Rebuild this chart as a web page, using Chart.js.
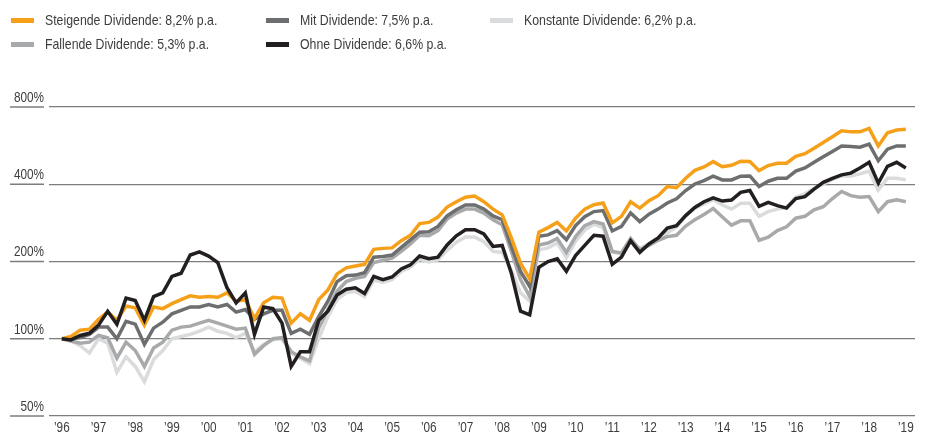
<!DOCTYPE html>
<html lang="de">
<head>
<meta charset="UTF-8">
<title>Dividendenstrategien</title>
<script src="https://cdn.jsdelivr.net/npm/chart.js"></script>
<style>
  body { margin: 0; background: #fff; }
  #wrap { position: relative; width: 927px; height: 435px; }
  #chart { position: absolute; left: 0; top: 0; }
  .leg {
    position: absolute;
    font-family: 'Liberation Sans Narrow', 'Liberation Sans', sans-serif;
    font-size: 15px;
    line-height: 18px;
    color: #3d3d3d;
    white-space: nowrap;
  }
  .leg i { position: absolute; left: -34px; top: 7px; width: 23px; height: 5px; }
  .leg span { display: inline-block; transform: scaleX(0.82); transform-origin: 0 50%; }
</style>
</head>
<body>
<div id="wrap">
  <canvas id="chart" width="927" height="435"></canvas>
</div>

<script>
// Quartalswerte ab 1996, Start = 100 %
const startYear = 1996;
const stepsPerYear = 4;

const steigende = [100,102,108,109,119,127,118,134,132,113, 133,131,137,142,147,145,146,145,151,140,
  142,120,138,145,144,115,125,118,142,155, 179,189,192,195,223,225,226,241,253,281,
  284,298,326,342,356,360,342,320,304,247, 197,171,260,271,284,263,295,320,333,338,
  283,300,342,323,345,361,392,388,422,453, 467,490,468,474,492,491,452,473,483,483,
  514,526,553,582,613,646,640,640,660,564, 635,651,655];

const mit = [100,100,101,104,111,111,100,117,114,95, 110,116,125,129,133,133,136,133,136,127,
  130,119,125,129,129,105,109,104,122,140, 167,176,177,181,208,209,212,227,243,260,
  261,274,301,318,332,332,320,301,291,229, 183,160,251,254,264,243,276,299,313,316,
  263,274,309,286,306,320,338,351,378,401, 413,430,416,416,430,431,392,411,422,422,
  450,463,487,512,537,564,561,558,573,494, 548,564,564];

const konstante = [100,98,94,88,100,96,74,85,78,68, 83,90,100,102,104,107,111,107,105,101,
  105,89,95,99,100,88,84,80,100,122, 142,151,153,146,169,166,170,183,190,204,
  199,203,221,238,249,249,239,219,217,185, 151,140,222,226,236,207,240,265,280,271,
  218,214,239,225,234,246,259,272,300,323, 335,348,332,320,337,337,300,313,320,325,
  356,367,386,400,418,431,431,439,450,380, 422,422,416];

const fallende = [100,98,96,97,103,101,84,97,90,78, 92,97,108,111,112,115,118,115,112,109,
  110,87,94,100,101,89,85,82,110,130, 153,167,172,175,198,202,206,219,234,253,
  252,264,293,309,320,320,309,291,278,219, 170,146,232,236,246,217,250,276,286,280,
  219,216,246,222,231,242,250,253,275,291, 305,322,298,277,288,288,242,249,264,273,
  295,300,318,327,352,375,361,356,358,313, 342,348,342];

const ohne = [100,99,103,105,113,128,114,144,141,118, 146,151,175,180,212,218,210,198,158,138,
  151,104,133,131,115,78,89,89,118,128, 148,156,158,150,175,170,174,187,194,210,
  205,208,232,252,266,266,256,229,231,180, 128,124,190,200,205,183,211,231,253,251,
  195,208,241,217,234,247,270,276,302,325, 342,354,344,347,372,378,328,340,330,323,
  352,358,383,407,422,435,442,463,487,404, 470,487,463];

const seriesNames = ['Steigende Dividende: 8,2% p.a.', 'Mit Dividende: 7,5% p.a.',
  'Konstante Dividende: 6,2% p.a.', 'Fallende Dividende: 5,3% p.a.', 'Ohne Dividende: 6,6% p.a.'];
const seriesColors = ['#f6a01a', '#6d6e70', '#dadbdc', '#a8a9ab', '#231f20'];
const seriesData = [steigende, mit, konstante, fallende, ohne];
const drawOrder = [1, 2, 4, 3, 0];   // kleiner = weiter oben

const years = [1996,1997,1998,1999,2000,2001,2002,2003,2004,2005,2006,2007,
  2008,2009,2010,2011,2012,2013,2014,2015,2016,2017,2018,2019];
const yearLabels = ['’96','’97','’98','’99','’00','’01','’02','’03','’04','’05','’06','’07',
  '’08','’09','’10','’11','’12','’13','’14','’15','’16','’17','’18','’19'];
const yTicks = [50, 100, 200, 400, 800];
const yTickLabels = ['50%', '100%', '200%', '400%', '800%'];

// Legende (HTML, 3 Spalten)
const legendPos = [[45, 11], [300, 11], [524, 11], [45, 35], [300, 35]];
const wrap = document.getElementById('wrap');
seriesNames.forEach((name, k) => {
  const d = document.createElement('div');
  d.className = 'leg';
  d.style.left = legendPos[k][0] + 'px';
  d.style.top = legendPos[k][1] + 'px';
  d.innerHTML = '<i style="background:' + seriesColors[k] + '"></i><span>' + name + '</span>';
  wrap.appendChild(d);
});

const gridColor = '#7d7d7d';
const textColor = '#3d3d3d';
const fontFamily = "'Liberation Sans Narrow', 'Liberation Sans', sans-serif";
const squeeze = 0.84;   // schmale Schrift nachbilden

// y-Beschriftung ueber der Linie + kurze Linie darunter, x-Beschriftung schmal
const axisText = {
  id: 'axisText',
  afterDraw(chart) {
    const y = chart.scales.y, x = chart.scales.x, ctx = chart.ctx;
    ctx.save();
    ctx.strokeStyle = gridColor;
    ctx.lineWidth = 1.3;
    ctx.fillStyle = textColor;
    ctx.font = '14px ' + fontFamily;
    y.ticks.forEach(t => {
      const py = y.getPixelForValue(t.value);
      ctx.beginPath();
      ctx.moveTo(10, py);
      ctx.lineTo(44, py);
      ctx.stroke();
      ctx.save();
      ctx.translate(44, py - 9);
      ctx.scale(squeeze, 1);
      ctx.textAlign = 'right';
      ctx.textBaseline = 'middle';
      ctx.fillText(yTickLabels[yTicks.indexOf(t.value)], 0, 0);
      ctx.restore();
    });
    years.forEach((yr, k) => {
      const px = x.getPixelForValue(yr);
      ctx.save();
      ctx.translate(px, chart.chartArea.bottom + 5);
      ctx.scale(squeeze, 1);
      ctx.textAlign = 'center';
      ctx.textBaseline = 'top';
      ctx.fillText(yearLabels[k], 0, 0);
      ctx.restore();
    });
    ctx.restore();
  }
};

const datasets = seriesData.map((arr, k) => ({
  label: seriesNames[k],
  data: arr.map((v, i) => ({ x: startYear + i / stepsPerYear, y: v })),
  borderColor: seriesColors[k],
  borderWidth: 3.5,
  pointRadius: 0,
  tension: 0,
  fill: false,
  order: drawOrder[k]
}));

new Chart(document.getElementById('chart'), {
  type: 'line',
  data: { datasets },
  options: {
    responsive: false,
    animation: false,
    devicePixelRatio: 1,
    layout: { padding: { top: 107, right: 12, left: 0, bottom: 0 } },
    plugins: { legend: { display: false }, tooltip: { enabled: false } },
    scales: {
      x: {
        type: 'linear',
        min: years[0] - 0.35,
        max: years[years.length - 1] + 0.25,
        afterBuildTicks: s => { s.ticks = years.map(v => ({ value: v })); },
        afterFit: s => { s.height = 19; },
        grid: { display: false, drawTicks: false },
        border: { display: false },
        ticks: { display: false }
      },
      y: {
        type: 'logarithmic',
        min: 50,
        max: 800,
        afterBuildTicks: s => { s.ticks = yTicks.map(v => ({ value: v })); },
        afterFit: s => { s.width = 49; },
        grid: { color: gridColor, lineWidth: 1.3, drawTicks: false },
        border: { display: false },
        ticks: { display: false }
      }
    }
  },
  plugins: [axisText]
});
</script>
</body>
</html>
